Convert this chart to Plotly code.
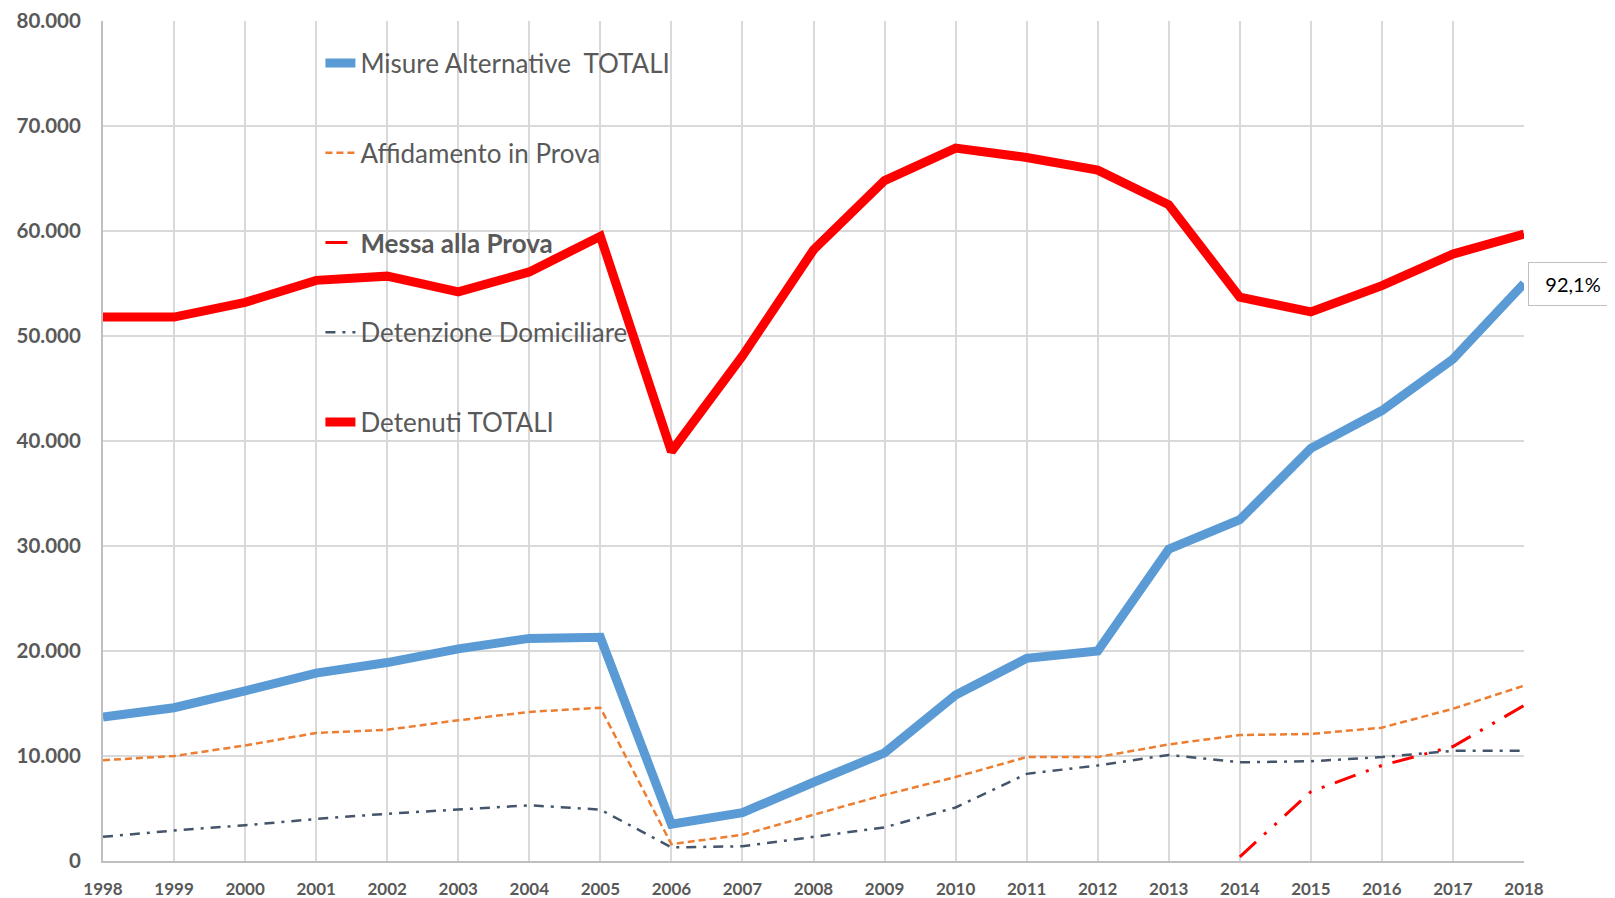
import plotly.graph_objects as go

years = list(range(1998, 2019))

misure_totali = [13700, 14600, 16200, 17900, 18900, 20200, 21200, 21300, 3500, 4600,
                 7500, 10300, 15800, 19300, 20000, 29700, 32500, 39300, 42900, 47800, 55000]
affidamento = [9600, 10000, 11000, 12200, 12500, 13400, 14200, 14600, 1600, 2500,
               4400, 6300, 8000, 9900, 9900, 11100, 12000, 12100, 12700, 14500, 16700]
messa_years = [2014, 2015, 2016, 2017, 2018]
messa_prova = [400, 6600, 9100, 10900, 14800]
detenzione = [2300, 2900, 3400, 4000, 4500, 4900, 5300, 4900, 1300, 1400,
              2300, 3200, 5100, 8300, 9100, 10100, 9400, 9500, 9900, 10500, 10500]
detenuti_totali = [51800, 51800, 53200, 55300, 55700, 54200, 56100, 59500, 39000, 48100,
                   58200, 64800, 67900, 67000, 65800, 62500, 53700, 52300, 54800, 57800, 59700]

label_2018 = "92,1%"

fig = go.Figure()

fig.add_trace(go.Scatter(x=years, y=misure_totali, mode="lines", name="Misure Alternative  TOTALI",
                         legendgroup="a", line=dict(color="#5B9BD5", width=9)))
fig.add_trace(go.Scatter(x=years, y=affidamento, mode="lines", name="Affidamento in Prova",
                         legendgroup="b", line=dict(color="#ED7D31", width=2.5, dash="7px,4px")))
fig.add_trace(go.Scatter(x=messa_years, y=messa_prova, mode="lines", name="<b>Messa alla Prova</b>",
                         legendgroup="c",
                         line=dict(color="#FF0000", width=3, dash="22px,11px,3px,11px,3px,11px")))
fig.add_trace(go.Scatter(x=years, y=detenzione, mode="lines", name="Detenzione Domiciliare",
                         legendgroup="d",
                         line=dict(color="#44546A", width=2.5, dash="10px,7px,3px,7px")))
fig.add_trace(go.Scatter(x=years, y=detenuti_totali, mode="lines", name="Detenuti TOTALI",
                         legendgroup="e", line=dict(color="#FF0000", width=9)))

fig.add_annotation(xref="paper", yref="y", x=1.0028, y=misure_totali[-1], xanchor="left",
                   yanchor="middle", text=label_2018, showarrow=False, width=88, height=42,
                   align="center", valign="middle", bordercolor="#BFBFBF", borderwidth=1,
                   bgcolor="white", borderpad=0,
                   font=dict(family="Lato, sans-serif", size=20, color="#000000"))

# page body has an 8px default margin: figure is sized/offset to compensate
fig.update_layout(
    width=1607, height=890,
    margin=dict(l=95, r=91, t=13, b=37, autoexpand=False),
    paper_bgcolor="white", plot_bgcolor="white",
    separators=",.",
    font=dict(family="Lato, sans-serif", color="#595959"),
    showlegend=True,
    legend=dict(x=0.153, y=0.978, xanchor="left", yanchor="top", traceorder="grouped",
                tracegroupgap=53, bgcolor="rgba(0,0,0,0)",
                font=dict(family="Lato, sans-serif", size=26, color="#595959")),
    xaxis=dict(range=[1998, 2018], tickmode="array", tickvals=years, automargin=False,
               showgrid=True, gridcolor="#D9D9D9", gridwidth=2,
               showline=True, linecolor="#BFBFBF", linewidth=2,
               zeroline=False, ticks="", ticklabelstandoff=12,
               tickfont=dict(family="Lato, sans-serif", size=17, color="#595959", weight="bold")),
    yaxis=dict(range=[0, 80000], dtick=10000, tickformat=",d", automargin=False,
               showgrid=True, gridcolor="#D9D9D9", gridwidth=2,
               showline=True, linecolor="#BFBFBF", linewidth=2,
               zeroline=False, ticks="", ticklabelstandoff=16,
               tickfont=dict(family="Lato, sans-serif", size=20.5, color="#595959", weight="bold")),
)

fig.write_html("out.html")
